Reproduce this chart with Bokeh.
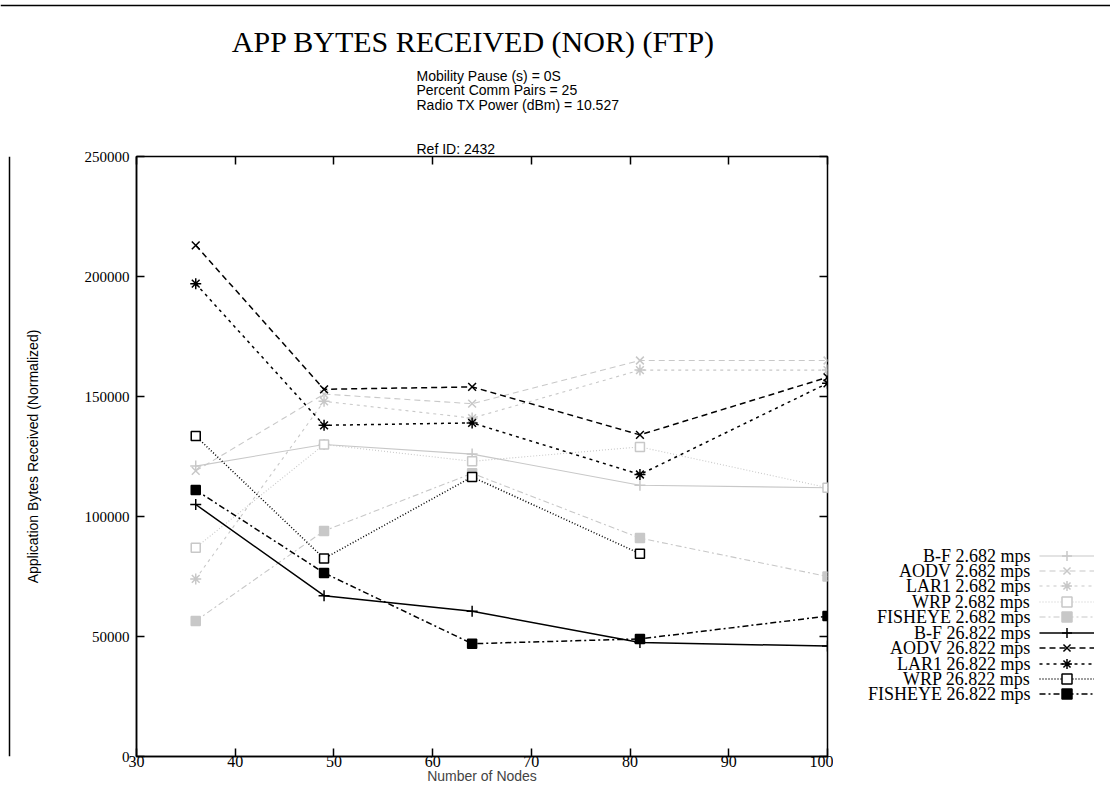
import math
from bokeh.plotting import figure
from bokeh.layouts import column, row
from bokeh.models import (Legend, LegendItem, LinearAxis, FixedTicker, Title, Label, Span,
                          Range1d, NumeralTickFormatter)
from bokeh.embed import file_html
from bokeh.resources import INLINE

nan = float("nan")

# ---------------- data ----------------
nodes = [36, 49, 64, 81, 100]

bf_2682 = [121000, 130000, 126000, 113000, 112000]
aodv_2682 = [119000, 151000, 147000, 165000, 165000]
lar1_2682 = [74000, 148000, 141000, 161000, 161000]
wrp_2682 = [87000, 130000, 123000, 129000, 112000]
fisheye_2682 = [56500, 94000, 118000, 91000, 75000]

bf_26822 = [105000, 67000, 60500, 47500, 46000]
aodv_26822 = [213000, 153000, 154000, 134000, 158000]
lar1_26822 = [197000, 138000, 139000, 117500, 155500]
wrp_26822 = [133500, 82500, 116500, 84500, nan]
fisheye_26822 = [111000, 76500, 47000, 49000, 58500]

series_labels = ["B-F 2.682 mps", "AODV 2.682 mps", "LAR1 2.682 mps", "WRP 2.682 mps",
                 "FISHEYE 2.682 mps", "B-F 26.822 mps", "AODV 26.822 mps",
                 "LAR1 26.822 mps", "WRP 26.822 mps", "FISHEYE 26.822 mps"]
series_values = [bf_2682, aodv_2682, lar1_2682, wrp_2682, fisheye_2682,
                 bf_26822, aodv_26822, lar1_26822, wrp_26822, fisheye_26822]

x_ticks = [30, 40, 50, 60, 70, 80, 90, 100]
y_ticks = [0, 50000, 100000, 150000, 200000, 250000]

title_text = "APP BYTES RECEIVED (NOR) (FTP)"
subtitle_lines = ["Mobility Pause (s) = 0S", "Percent Comm Pairs = 25",
                  "Radio TX Power (dBm) = 10.527"]
ref_text = "Ref ID: 2432"
x_label = "Number of Nodes"
y_label = "Application Bytes Received (Normalized)"

# ---------------- styles ----------------
protocol_styles = [
    dict(dash="solid", marker="cross", fill=False, size=11),
    dict(dash="6 4", marker="x", fill=False, size=11),
    dict(dash="3 4", marker="asterisk", fill=False, size=11),
    dict(dash="1 2", marker="square", fill=False, size=9),
    dict(dash="6 3 2 3", marker="square", fill=True, size=9),
]
light = "#c8c8c8"
dark = "black"
SERIF = "Liberation Serif"
SANS = "Liberation Sans"

W = 1110
TITLE_H = 136
MAIN_H = 651
YLAB_W = 60
FRAME_W = 691
FRAME_H = 600
MAIN_W = 76 + FRAME_W + 6
LEG_W = W - YLAB_W - MAIN_W


def blank(width, height):
    f = figure(width=width, height=height, x_range=Range1d(0, 1), y_range=Range1d(0, 1),
               x_axis_location=None, y_axis_location=None, min_border=0,
               output_backend="svg", toolbar_location=None)
    f.outline_line_color = None
    f.xgrid.visible = False
    f.ygrid.visible = False
    f.background_fill_color = "white"
    f.border_fill_color = "white"
    return f


# ---------------- title band ----------------
pt = blank(W, TITLE_H)
pt.add_layout(Label(x=473, y=95, x_units="screen", y_units="screen", text=title_text,
                    text_align="center", text_baseline="middle", text_font=SERIF,
                    text_font_size="30px", text_color="black"))
for j, line in enumerate(subtitle_lines):
    pt.add_layout(Label(x=416, y=61 - 14.5 * j, x_units="screen", y_units="screen",
                        text=line, text_align="left", text_baseline="middle",
                        text_font=SANS, text_font_size="14px", text_color="black"))
pt.add_layout(Span(location=131, location_units="screen", dimension="width",
                   line_color="black", line_width=1.5))

# ---------------- y label band (frame aligned with the main plot) ----------------
py = blank(YLAB_W, MAIN_H)
py.add_layout(Label(x=32, y=FRAME_H / 2, x_units="screen", y_units="screen", text=y_label,
                    angle=math.pi / 2, text_align="center", text_baseline="middle",
                    text_font=SANS, text_font_size="14px", text_color="black"))
py.add_layout(Span(location=9, location_units="screen", dimension="height",
                   line_color="black", line_width=1.5))

# ---------------- main plot ----------------
p = figure(width=MAIN_W, height=MAIN_H, x_range=Range1d(30, 100), y_range=Range1d(0, 250000),
           output_backend="svg", toolbar_location=None,
           min_border_left=76, min_border_right=6, min_border_top=20, min_border_bottom=31)
p.background_fill_color = "white"
p.border_fill_color = "white"
p.outline_line_color = "black"
p.outline_line_width = 1.5
p.xgrid.visible = False
p.ygrid.visible = False

for ax in p.xaxis:
    ax.ticker = FixedTicker(ticks=x_ticks)
for ax in p.yaxis:
    ax.ticker = FixedTicker(ticks=y_ticks)
    ax.formatter = NumeralTickFormatter(format="0")
for ax in list(p.xaxis) + list(p.yaxis):
    ax.major_tick_in = 8
    ax.major_tick_out = 0
    ax.minor_tick_in = 0
    ax.minor_tick_out = 0
    ax.axis_line_color = "black"
    ax.axis_line_width = 1.5
    ax.major_tick_line_width = 1.5
    ax.major_label_text_font = SERIF
    ax.major_label_text_color = "black"
p.xaxis.major_label_text_font_size = "16px"
p.yaxis.major_label_text_font_size = "15px"
p.xaxis.major_label_standoff = -1
p.xaxis.axis_label = x_label
p.xaxis.axis_label_text_font = SANS
p.xaxis.axis_label_text_font_size = "14px"
p.xaxis.axis_label_text_font_style = "normal"
p.xaxis.axis_label_standoff = -2
p.yaxis.major_label_standoff = 7

ax_r = LinearAxis(ticker=FixedTicker(ticks=y_ticks), major_tick_in=8, major_tick_out=0,
                  minor_tick_in=0, minor_tick_out=0, major_label_text_color=None,
                  major_label_text_font_size="1px", major_label_standoff=0,
                  axis_line_color=None, major_tick_line_width=1.5)
ax_t = LinearAxis(ticker=FixedTicker(ticks=x_ticks), major_tick_in=8, major_tick_out=0,
                  minor_tick_in=0, minor_tick_out=0, major_label_text_color=None,
                  major_label_text_font_size="1px", major_label_standoff=0,
                  axis_line_color=None, major_tick_line_width=1.5)
p.add_layout(ax_r, "right")
p.add_layout(ax_t, "above")
p.add_layout(Title(text=ref_text, align="left", offset=280, standoff=0,
                   text_font=SANS, text_font_size="14px", text_font_style="normal",
                   text_color="black"), "above")

# ---------------- key band (gnuplot style: text, then sample) ----------------
pk = blank(LEG_W, MAIN_H)

for i, (lab, vals) in enumerate(zip(series_labels, series_values)):
    st = protocol_styles[i % 5]
    col = light if i < 5 else dark
    lw = 1.1 if i < 5 else 1.5
    style = dict(line_color=col, line_width=lw, line_dash=st["dash"])
    mstyle = dict(marker=st["marker"], size=st["size"], line_color=col, line_width=1.5,
                  fill_color=(col if st["fill"] else "white"))
    p.line(nodes, vals, **style)
    p.scatter(nodes, vals, **mstyle)
    # same series in the key band (its ranges keep the data itself out of view)
    kl = pk.line(nodes, vals, **style)
    ks = pk.scatter(nodes, vals, **mstyle)
    yc = 201 - 15.44 * i
    pk.add_layout(Label(x=197, y=yc, x_units="screen", y_units="screen", text=lab,
                        text_align="right", text_baseline="middle", text_font=SERIF,
                        text_font_size="18px", text_color="black"))
    pk.add_layout(Legend(items=[LegendItem(label=" ", renderers=[kl, ks])],
                         location=(206, yc - 12.5), glyph_width=55, glyph_height=25,
                         label_height=0, label_width=0, label_standoff=0, spacing=0,
                         padding=0, margin=0, label_text_font_size="1px",
                         background_fill_alpha=0, border_line_color=None))

layout = column(pt, row(py, p, pk))
open("out.html", "w").write(file_html(layout, INLINE))
